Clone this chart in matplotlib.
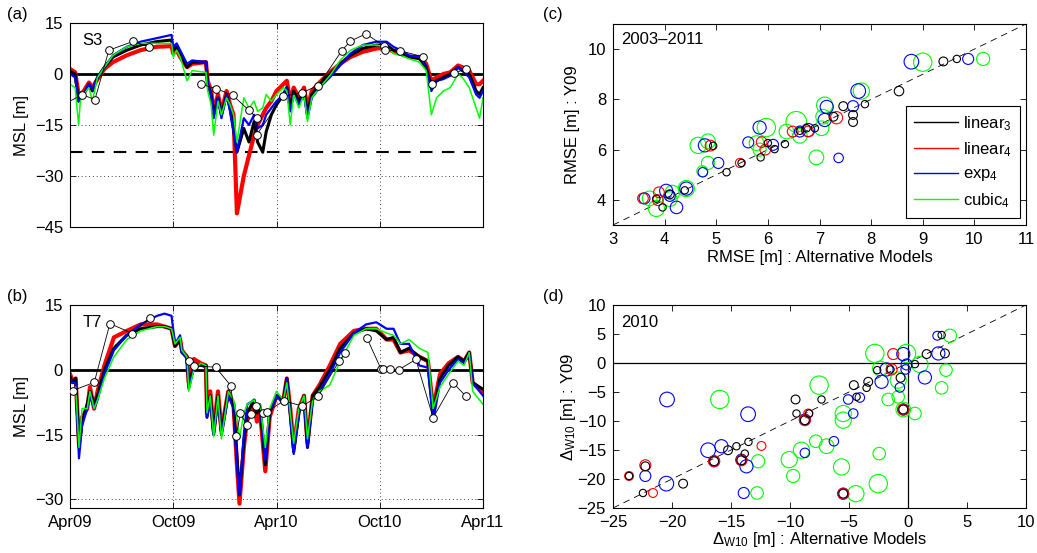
import matplotlib
matplotlib.use("Agg")
import matplotlib.pyplot as plt
from matplotlib.lines import Line2D

plt.rcParams["font.family"] = ["Liberation Sans", "DejaVu Sans"]
plt.rcParams["mathtext.fontset"] = "custom"
plt.rcParams["mathtext.rm"] = "Liberation Sans"
plt.rcParams["mathtext.it"] = "Liberation Sans:italic"
plt.rcParams["font.size"] = 12
plt.rcParams["axes.linewidth"] = 0.8

RED = "#ff0000"
BLUE = "#0000ff"
GREEN = "#00ff00"
GAP = float("nan")

# ---- time axis (months since Apr 2009) ----
month_ticks = [0, 6, 12, 18, 24]
month_labels = ["Apr09", "Oct09", "Apr10", "Oct10", "Apr11"]

# ---- panel (a): S3 ----
ta = [0, 0.3, 0.5, 0.6, 0.8, 1.1, 1.3, 1.6, 2.0, 2.5,
      3.3, 4.1, 5.0, 5.9, 6.0, 6.2, 6.4, 6.8, 7.1, 7.9,
      8.0, 8.2, 8.35, 8.6, 8.8, 9.1, 9.3, 9.5, 9.7, 10.1,
      10.4, 10.7, 10.9, 11.2, 11.4, 11.7, 12.0, 12.4, 12.6, 12.8,
      13.0, 13.3, 13.6, 13.8, 14.05, 14.5, 15.1, 15.7, 16.3, 17.0,
      17.8, 18.4, 18.8, 19.2, 19.7, 20.3, 20.7, 21.0, 21.3, 21.7,
      22.1, 22.55, 22.8, 23.2, 23.6, 23.8, 24.0]
a_black = [0.8, 0, -8, -7, -6, -3, -5, -1, 2, 5,
           7, 8.5, 9.5, 10, 7, 8, 6, 2, 3.5, 3.5,
           -3, -6, -12, -7, -12, -6, -10, -16, -23, -16,
           -20, -14, -20, -23, -17, -12, -9, -6, -4, -10,
           -5, -8, -5, -12, -6, -3, 0, 3, 5.5, 7.5,
           8.5, 8.5, 7, 6.5, 5, 4.5, 2, -4, -2, -1,
           0, 2, 1, 0, -5, -6, -4]
a_red = [1.5, 0.5, -6, -6, -5, -2.5, -4, -1.5, 1.5, 3.5,
         5.5, 7, 8, 8.2, 6, 7, 5, 2, 3, 3.5,
         -2, -5, -11, -6, -11, -5, -9, -12, -41, -30,
         -24, -18, -15, -12, -10, -8, -5, -3, -2, -8,
         -4, -7, -4, -10, -5, -2.5, 0.5, 3, 5, 6.5,
         7.5, 7.8, 6.5, 6, 5, 5, 3, -2, -1, 0,
         0.5, 2.5, 2, 1, -3, -3, -2]
a_blue = [0, -1, -8, -7, -6, -3, -4.5, -1, 2, 5.5,
          8, 9.5, 10.5, 11.5, 8, 9, 7, 3, 4, 3.5,
          -3, -6, -13, -7, -13, -6, -11, -17, -23, -13,
          -15, -12, -16, -15, -12, -10, -8, -6, -4, -11,
          -6, -9, -6, -13, -7, -4, -1, 2.5, 6, 8.5,
          9.5, 9.5, 8, 7, 5.5, 5, 2.5, -5, -2, -1.5,
          -0.5, 2, 1, -1, -6, -7, -5]
a_green = [-3, -4, -15, -8, -6, -4, -8, -1, 2, 5.5,
           8, 9, 9, 9, 5, 7, 5, -2, 1, 0.5,
           -5, -9, -18, -8, -12, -7, -9, -12, -20, -7,
           -10, -8, -11, -10, -6, -8, -6, -4, -5, -15,
           -6, -10, -6, -14, -7, -4, -0.5, 4, 7, 8.5,
           8.5, 8, 6, 5.5, 4.5, 3.5, 1, -12, -7, -5,
           -4, 0, -1, -4, -10, -13, -7]
ma_t = [-0.4, 0.71, 1.45, 2.26, 3.67, 4.58, 6.0, 7.59, 8.5, 9.47, 10.4, 10.86, 10.86,
        12.4, 13.47, 14.43, 15.8, 16.3, 17.2, 18.26, 18.3, 19.2, 20.5, 21.04, 22.3, 23.0]
ma_v = [-9, -6.1, -7.5, 7.0, 9.6, 8.0, GAP, -3.0, -4.3, -6.3, -10.7, -12.9, -17.8,
        -6.6, -5.5, -3.4, 6.9, 9.7, 11.8, 8.2, 7.0, 6.8, 5.1, -2.8, 0.2, 1.5]
a_threshold = -23

# ---- panel (b): T7 ----
tb = [0, 0.15, 0.33, 0.52, 0.7, 1.0, 1.16, 1.4, 1.6, 2.0,
      2.55, 3.3, 4.1, 5.06, 5.5, 5.9, 6.1, 6.4, 6.5, 6.8,
      6.9, 7.2, 7.6, 7.9, 7.96, 8.15, 8.35, 8.6, 8.8, 9.2,
      9.5, 9.7, 9.85, 10.1, 10.3, 10.7, 10.86, 11.05, 11.35, 11.6,
      12.0, 12.4, 12.6, 12.8, 13.0, 13.3, 13.6, 13.8, 14.1, 14.5,
      15.1, 15.7, 16.5, 17.2, 17.8, 18.4, 18.8, 19.2, 19.7, 20.3,
      20.8, 21.1, 21.5, 22.0, 22.55, 22.9, 23.2, 23.4, 23.8, 24.0]
b_black = [-1.6, -3, -2, -18, -12, -8, -5, -8, -6, 0,
           5, 8, 9.5, 10, 10, 9.5, 5.5, 7, 4, 3,
           -4, 1, 1, 1, -11, -6, -15, -6, -15, -5,
           -8, -20, -29, -17, -10, -7, -10, -9, -22, -10,
           -6, -7, -2, -10, -19, -10, -6, -18, -6, -4,
           0, 5, 8.5, 9.5, 9, 7, 7.5, 4, 5, 3,
           2, -10, -2, 1, 3, 2, 4, -3, -4, -4.5]
b_red = [-1, -2.5, -2, -17, -11, -9, -4, -9, -5, 1,
         7.5, 9, 10.5, 10.5, 10, 9.5, 5.5, 7, 4.5, 3,
         -3, 2.5, 1.5, 1, -10, -5, -14, -5, -14, -5,
         -8, -22, -31, -18, -11, -8, -12, -10, -23.5, -11,
         -6, -7, -2, -9, -18, -9, -6, -17, -6, -3.5,
         1, 6, 9, 9.5, 9.5, 7, 7, 4, 4.5, 3,
         2, -9, -1, 1.5, 3, 2, 4, -3, -4.5, -5]
b_blue = [-2, -3, -3, -20.5, -13, -9, -6, -9, -7, -1,
          4.5, 8, 10.5, 12.5, 13, 12.5, 6, 8, 4, 2.5,
          -4.5, 0.5, 1, 0.5, -11, -7, -15, -7, -15, -6,
          -9, -22, -29, -15, -8, -7, -9, -8, -21, -10,
          -6, -8, -2, -11, -19.5, -10, -7, -18, -7, -5,
          -1, 4, 8.5, 10.5, 11, 9.5, 9.5, 6, 6, 1,
          0.5, -12, -3, 0, 2.5, 1.5, 3.5, -3, -5, -6]
b_green = [-4, -5, -4, -18, -9, -9, -5, -9, -7, -2,
           3, 7, 9, 10, 10, 9.5, 6, 7.5, 4.5, 3,
           -5, 0, 1.5, 1, -10, -6, -15.5, -6, -16, -5,
           -7, -11, -16, -10, -8, -7, -9, -8, -18, -9,
           -5, -7, -3, -10, -17, -9, -6, -16, -7, -5,
           -3.5, 2, 8, 9.5, 9.5, 8.5, 8, 6, 7, 5,
           4, -9, -4, -1, 2, 1, 4, -5, -7, -8]
mb_t = [0.17, 1.41, 2.32, 3.63, 4.62, 6.0, 6.94, 7.19, 8.46, 9.35, 9.66, 9.9, 10.28, 10.53,
        10.82, 11.2, 11.44, 12.43, 13.5, 14.43, 15.65, 16.0, 16.5, 17.26, 18.07, 18.2, 18.6,
        19.1, 20.1, 21.1, 22.26, 23.0]
mb_v = [-4.8, -2.9, 10.7, 8.4, 12.0, GAP, 2.0, 0.9, 0.6, -3.7, -15.3, -10.1, -12.8, -10.3,
        -8.4, -10.1, -9.7, -7.2, -8.4, -6.1, 2.1, 3.8, GAP, 7.3, 0.2, 0.2, 0.2,
        0.0, 2.4, -11.1, -3.0, -6.1]

# ---- panel (c): RMSE 2003-2011 (x: alternative models, y: Y09, d: circle size) ----
c_black_x = [9.66, 9.40, 8.54, 7.88, 7.46, 7.65, 7.65, 7.27, 6.91, 6.75, 6.62, 6.33,
             6.13, 6.0, 5.86, 5.49, 5.20, 4.94, 4.39, 4.10, 3.96, 3.84]
c_black_y = [9.61, 9.51, 8.33, 7.81, 7.73, 7.38, 7.10, 7.31, 6.85, 6.85, 6.75, 6.22,
             6.02, 6.26, 5.69, 5.47, 5.10, 6.15, 4.38, 4.22, 3.70, 4.05]
c_black_d = [4.8, 5.8, 6.2, 4.8, 5.8, 5.8, 5.8, 5.8, 4.8, 4.8, 4.8, 4.8,
             4.8, 4.8, 4.8, 4.8, 4.8, 4.8, 4.8, 5.8, 4.8, 4.8]
c_red_x = [3.58, 3.89, 3.87, 4.89, 5.46, 5.88, 5.95, 6.48, 6.78, 7.33]
c_red_y = [4.06, 4.30, 3.99, 6.16, 5.47, 6.30, 6.00, 6.72, 6.72, 7.27]
c_red_d = [7, 7, 7, 7, 6, 7, 7, 7, 7, 8]
c_blue_x = [8.78, 9.88, 7.75, 7.65, 7.14, 7.10, 6.78, 6.62, 5.84, 5.62, 6.10, 7.37,
            5.04, 4.74, 4.78, 4.42, 4.03, 4.10, 4.23, 3.61]
c_blue_y = [9.50, 9.61, 8.33, 7.73, 7.70, 7.18, 6.78, 6.72, 6.88, 6.29, 6.19, 5.67,
            5.47, 5.10, 6.17, 4.45, 4.36, 4.16, 3.70, 4.06]
c_blue_d = [9.6, 7.2, 9.6, 7.2, 8.6, 8.6, 8.6, 7.2, 8.6, 7.2, 7.2, 6.2,
            7.2, 6.2, 8.6, 8.6, 8.6, 7.2, 8.2, 7.2]
c_green_x = [9.0, 10.17, 7.81, 7.10, 7.07, 6.55, 7.04, 6.36, 5.97, 5.78, 5.84, 6.94,
             4.65, 4.84, 4.84, 4.73, 4.42, 4.15, 4.10, 3.84, 3.71, 6.62]
c_green_y = [9.48, 9.61, 8.33, 7.77, 7.31, 7.11, 6.85, 6.72, 6.88, 6.26, 6.00, 5.69,
             6.17, 6.33, 5.47, 5.14, 4.45, 4.29, 4.03, 3.66, 4.06, 6.55]
c_green_d = [12, 8.6, 10.6, 10.6, 9.6, 13.4, 9.6, 9.6, 12, 9.6, 8.6, 9.6,
             10.6, 9.6, 8.6, 7.2, 10.6, 9.6, 9.6, 10.6, 9.6, 9.6]

# ---- panel (d): Delta_W10 2010 ----
d_black_x = [2.85, 3.13, 1.58, 0.59, -2.61, -0.63, -3.37, -3.51, -4.59, -4.36,
             -7.33, -9.53, -9.45, -8.38, -8.74, -13.52, -14.54, -15.25, -13.83, -14.12,
             -16.43, -22.26, -23.64, -19.06, -22.46, -5.49, -0.40, -1.48]
d_black_y = [4.82, 1.65, 1.54, -0.19, -1.23, -2.55, -3.24, -4.28, -3.82, -5.83,
             -6.29, -6.29, -8.71, -8.71, -9.86, -13.6, -14.35, -15.04, -15.62, -16.77,
             -16.94, -17.81, -19.48, -20.80, -22.41, -22.53, -8.02, -1.11]
d_black_d = [4.8, 5.8, 5.8, 4.8, 4.8, 5.8, 5.8, 4.8, 5.8, 4.8,
             4.8, 5.8, 4.8, 4.8, 5.8, 4.8, 4.8, 5.8, 4.8, 5.8,
             5.8, 5.8, 4.8, 5.8, 4.8, 5.8, 5.8, 4.8]
d_red_x = [-1.25, -1.39, -0.40, -8.46, -8.74, -12.42, -14.12, -16.43, -22.26, -23.64, -21.61, -5.49]
d_red_y = [1.54, -1.11, -8.02, -8.71, -9.86, -14.3, -16.77, -16.94, -17.63, -19.48, -22.41, -22.53]
d_red_d = [7.2, 7.2, 7.2, 5.8, 7.2, 5.8, 7.2, 7.2, 7.2, 5.8, 5.8, 7.2]
d_blue_x = [2.48, 2.57, -0.40, -0.12, -0.20, 1.43, -2.24, -1.82, -0.69, -5.07,
            -4.08, -4.64, -6.28, -8.74, -8.74, -13.55, -20.42, -15.81, -16.94, -14.12,
            -13.69, -16.43, -22.26, -20.48, -13.92, -5.49, -0.40]
d_blue_y = [4.70, 1.65, 1.54, -0.25, -1.11, -2.49, -3.24, -1.11, -4.22, -6.29,
            -5.95, -8.71, -13.49, -15.5, -9.75, -8.83, -6.29, -14.35, -15.04, -16.66,
            -17.81, -16.94, -19.48, -20.8, -22.41, -22.53, -8.02]
d_blue_d = [5.8, 8.6, 8.6, 7.2, 6.2, 8.6, 8.6, 8.6, 6.2, 6.2,
            6.2, 6.2, 6.2, 6.2, 7.2, 9.6, 9.6, 8.6, 9.6, 7.2,
            8.6, 7.2, 7.2, 9.6, 7.2, 7.2, 7.2]
d_green_x = [3.56, -0.12, -2.81, 1.01, 3.22, 2.85, -2.38, -0.83, -1.68, -0.83,
             -0.40, 0.59, -7.53, -15.95, -5.49, -5.49, -7.81, -6.9, -9.03, -10.07,
             -12.7, -2.44, -5.63, -9.73, -2.52, -4.42, -12.79]
d_green_y = [4.70, 1.65, 1.65, -0.25, -1.23, -4.28, -0.94, -2.95, -6.29, -5.83,
             -8.02, -8.71, -3.82, -6.29, -8.71, -9.86, -13.49, -14.35, -15.04, -16.66,
             -16.94, -15.62, -17.92, -19.48, -20.8, -22.53, -22.41]
d_green_d = [8.6, 12, 12, 10.6, 8.2, 8.2, 9.6, 10.6, 8.2, 8.2,
             9.6, 8.2, 12, 12, 10.6, 10.6, 8.2, 9.6, 10.6, 10.6,
             8.6, 8.2, 10.6, 8.6, 12, 10.6, 8.2]

W, H = 1037, 553
fig = plt.figure(figsize=(W / 100, H / 100), dpi=100)


def box(left, top, right, bottom):
    return [left / W, 1 - bottom / H, (right - left) / W, (bottom - top) / H]


def style(ax):
    ax.tick_params(direction="in", top=True, right=True, length=4, width=0.6, pad=5)


def series_panel(ax, t, black, red, blue, green, mt, mv, name):
    ax.axhline(0, color="k", lw=2, zorder=1.5)
    ax.plot(t, red, color=RED, lw=3, zorder=2)
    ax.plot(t, black, color="k", lw=2.2, zorder=2.1)
    ax.plot(t, blue, color=BLUE, lw=1.6, zorder=2.2)
    ax.plot(t, green, color=GREEN, lw=1.1, zorder=2.3)
    ax.plot(mt, mv, "-o", color="k", lw=0.6, mfc="w", mec="k", ms=5.5, mew=0.7, zorder=3)
    ax.set_xlim(0, 24)
    ax.set_xticks(month_ticks)
    ax.grid(True, ls=(0, (1, 3.5)), color="k", lw=0.6)
    style(ax)
    ax.text(0.03, 0.95, name, transform=ax.transAxes, va="top", ha="left")
    ax.set_ylabel("MSL [m]")
    ax.yaxis.set_label_coords(-0.1, 0.5)


def scatter_panel(ax, groups):
    for x, y, d, c in groups:
        ax.scatter(x, y, s=[(1.1 * v) ** 2 for v in d], facecolors="none", edgecolors=c,
                   linewidths=0.8, zorder=3)


# (a)
ax_a = fig.add_axes(box(70, 23, 483, 227))
ax_a.axhline(a_threshold, color="k", lw=1.5, dashes=(6, 4.5), zorder=1.4)
series_panel(ax_a, ta, a_black, a_red, a_blue, a_green, ma_t, ma_v, "S3")
ax_a.set_ylim(-45, 15)
ax_a.set_yticks([-45, -30, -15, 0, 15])
ax_a.set_xticklabels([])

# (b)
ax_b = fig.add_axes(box(70, 305, 483, 508))
series_panel(ax_b, tb, b_black, b_red, b_blue, b_green, mb_t, mb_v, "T7")
ax_b.set_ylim(-32, 15)
ax_b.set_yticks([-30, -15, 0, 15])
ax_b.set_xticklabels(month_labels)

# (c)
ax_c = fig.add_axes(box(613, 24, 1026, 225))
ax_c.plot([3, 11], [3, 11], color="k", lw=0.6, dashes=(8, 6), zorder=2)
scatter_panel(ax_c, [(c_green_x, c_green_y, c_green_d, GREEN),
                     (c_blue_x, c_blue_y, c_blue_d, BLUE),
                     (c_red_x, c_red_y, c_red_d, RED),
                     (c_black_x, c_black_y, c_black_d, "k")])
ax_c.set_xlim(3, 11)
ax_c.set_ylim(3, 11)
ax_c.set_xticks(range(3, 12))
ax_c.set_yticks([4, 6, 8, 10])
style(ax_c)
ax_c.text(0.02, 0.96, "2003\u20132011", transform=ax_c.transAxes, va="top", ha="left")
ax_c.set_xlabel("RMSE [m] : Alternative Models", labelpad=2)
ax_c.set_ylabel("RMSE [m] : Y09")
ax_c.yaxis.set_label_coords(-0.08, 0.5)
handles = [Line2D([], [], color=c, lw=1) for c in ["k", RED, BLUE, GREEN]]
labels = ["linear$_3$", "linear$_4$", "exp$_4$", "cubic$_4$"]
leg = ax_c.legend(handles, labels, loc="lower right", bbox_to_anchor=(0.985, 0.035),
                  borderaxespad=0, fancybox=False, framealpha=1, edgecolor="k",
                  handlelength=2.6, handletextpad=0.3, labelspacing=0.45, borderpad=0.5)
leg.get_frame().set_linewidth(0.8)

# (d)
ax_d = fig.add_axes(box(613, 305, 1026, 508))
ax_d.axhline(0, color="k", lw=0.9, zorder=1.5)
ax_d.axvline(0, color="k", lw=0.9, zorder=1.5)
ax_d.plot([-25, 10], [-25, 10], color="k", lw=0.6, dashes=(8, 6), zorder=2)
scatter_panel(ax_d, [(d_green_x, d_green_y, d_green_d, GREEN),
                     (d_blue_x, d_blue_y, d_blue_d, BLUE),
                     (d_red_x, d_red_y, d_red_d, RED),
                     (d_black_x, d_black_y, d_black_d, "k")])
ax_d.set_xlim(-25, 10)
ax_d.set_ylim(-25, 10)
ax_d.set_xticks(range(-25, 11, 5))
ax_d.set_yticks(range(-25, 11, 5))
style(ax_d)
ax_d.text(0.02, 0.95, "2010", transform=ax_d.transAxes, va="top", ha="left")
ax_d.set_xlabel(r"$\Delta_{\mathrm{W10}}$ [m] : Alternative Models", labelpad=0)
ax_d.set_ylabel(r"$\Delta_{\mathrm{W10}}$ [m] : Y09")
ax_d.yaxis.set_label_coords(-0.085, 0.5)

for lbl, px, py in [("(a)", 17, 15), ("(b)", 17, 297), ("(c)", 553, 15), ("(d)", 553, 297)]:
    fig.text(px / W, 1 - py / H, lbl, ha="center", va="center")

fig.savefig("out.png", dpi=100)
